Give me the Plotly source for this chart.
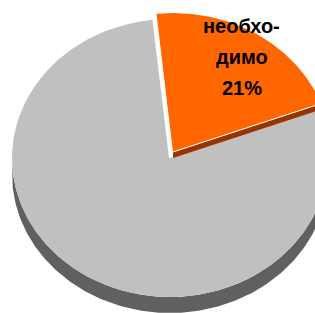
import numpy as np
import plotly.graph_objects as go

# ---- data ----
labels = ["необхо-<br>димо", ""]
values = [21, 79]
top_colors = ["#FF6600", "#C0C0C0"]
side_colors = ["#993300", "#606060"]

# ---- geometry (pixel space) ----
W, H = 315, 313
cx, cy = 170.0, 158.0
rx, ry = 158.0, 139.0
depth = 16.0
cut_depth = 6.0
start_angle = 96.0
explode = [(3.0, -6.0), (0.0, 0.0)]


def pt(a, ox=0.0, oy=0.0, f=1.0):
    t = np.radians(a)
    return cx + ox + f * rx * np.cos(t), cy + oy - f * ry * np.sin(t)


def arc(a0, a1, ox=0.0, oy=0.0, n=200):
    ts = np.linspace(a0, a1, n)
    xs, ys = pt(ts, ox, oy)
    return list(xs), list(ys)


def edge_line(a, ox, oy, width):
    ex, ey = pt(a, ox, oy)
    return go.Scatter(x=[cx + ox, ex], y=[cy + oy, ey], mode="lines",
                      line=dict(color="white", width=width),
                      hoverinfo="skip", showlegend=False)


total = float(sum(values))
angles = []
a = start_angle
for v in values:
    a1 = a - 360.0 * v / total
    angles.append((a, a1))
    a = a1

fig = go.Figure()

# side band of the big slice (front half)
xs_t, ys_t = arc(0, -180)
xs_b, ys_b = arc(-180, 0, 0, depth)
fig.add_trace(go.Scatter(x=xs_t + xs_b, y=ys_t + ys_b, fill="toself",
                         fillcolor=side_colors[1], line=dict(width=0),
                         mode="lines", hoverinfo="skip", showlegend=False))

# big slice top face
a0, a1 = angles[1]
ox, oy = explode[1]
xs, ys = arc(a0, a1, ox, oy)
fig.add_trace(go.Scatter(x=[cx + ox] + xs + [cx + ox], y=[cy + oy] + ys + [cy + oy],
                         fill="toself", fillcolor=top_colors[1],
                         line=dict(width=0, color=top_colors[1]),
                         mode="lines", hoverinfo="skip", showlegend=False))
fig.add_trace(edge_line(a1, ox, oy, 2))

# small slice cut face
a0, a1 = angles[0]
ox, oy = explode[0]
ex, ey = pt(a1, ox, oy)
fig.add_trace(go.Scatter(x=[cx + ox, ex, ex, cx + ox, cx + ox],
                         y=[cy + oy, ey, ey + cut_depth, cy + oy + cut_depth, cy + oy],
                         fill="toself", fillcolor=side_colors[0], line=dict(width=0),
                         mode="lines", hoverinfo="skip", showlegend=False))

# small slice top face
xs, ys = arc(a0, a1, ox, oy)
fig.add_trace(go.Scatter(x=[cx + ox] + xs + [cx + ox], y=[cy + oy] + ys + [cy + oy],
                         fill="toself", fillcolor=top_colors[0],
                         line=dict(width=0, color=top_colors[0]),
                         mode="lines", hoverinfo="skip", showlegend=False))
fig.add_trace(edge_line(a1, ox, oy, 1))

# label of the small slice
mid = (a0 + a1) / 2.0
lx, ly = pt(mid, ox, oy, 0.8)
lines = labels[0].split("<br>") + [f"{round(100 * values[0] / total)}%"]
step = 31
for i, txt in enumerate(lines):
    fig.add_annotation(x=lx + 2, y=ly + (i - (len(lines) - 1) / 2) * step, text=f"<b>{txt}</b>",
                       showarrow=False, xanchor="center", yanchor="middle",
                       font=dict(family="Liberation Sans, Arial, sans-serif", size=20, color="black"))

fig.update_layout(width=W, height=H, margin=dict(l=0, r=0, t=0, b=0),
                  paper_bgcolor="white", plot_bgcolor="white",
                  xaxis=dict(range=[0, W], visible=False, fixedrange=True),
                  yaxis=dict(range=[H, 0], visible=False, fixedrange=True),
                  showlegend=False)

fig.write_html("out.html", config={"displayModeBar": False},
               post_script="document.body.style.margin='0';document.body.style.overflow='hidden';")
